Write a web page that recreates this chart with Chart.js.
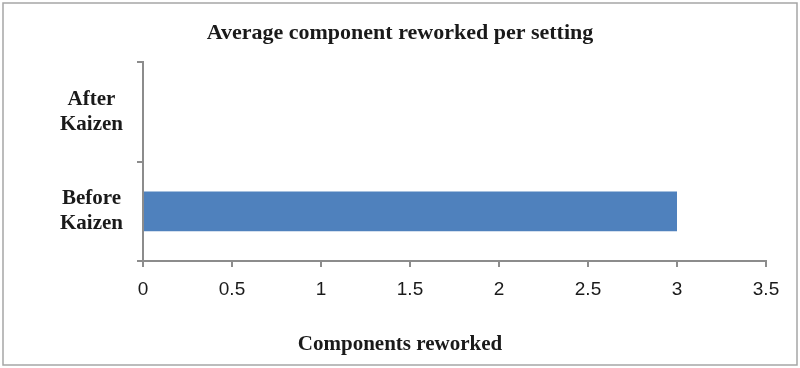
<!DOCTYPE html>
<html>
<head>
<meta charset="utf-8">
<script src="https://cdn.jsdelivr.net/npm/chart.js@4/dist/chart.umd.min.js"></script>
<style>
  html, body { margin: 0; padding: 0; background: #fff; }
  #wrap { width: 800px; height: 368px; position: relative; }
</style>
</head>
<body>
<div id="wrap"><canvas id="chart"></canvas></div>
<script>
(function () {
  "use strict";

  // data
  const CATEGORIES = [["After", "Kaizen"], ["Before", "Kaizen"]];
  const REWORKED = [0, 3];
  const X_TICKS = [0, 0.5, 1, 1.5, 2, 2.5, 3, 3.5];

  const TITLE = "Average component reworked per setting";
  const X_TITLE = "Components reworked";

  const AXIS = "#8c8c8c";
  const SERIF = "'Liberation Serif', 'Times New Roman', serif";

  // grey frame round the whole chart
  const framePlugin = {
    id: "frame",
    afterDraw(chart) {
      const ctx = chart.ctx;
      ctx.save();
      ctx.strokeStyle = "#a6a6a6";
      ctx.lineWidth = 1.5;
      ctx.strokeRect(3, 3, 794, 362);
      ctx.restore();
    },
  };

  new Chart(document.getElementById("chart"), {
    type: "bar",
    data: {
      labels: CATEGORIES,
      datasets: [{
        label: X_TITLE,
        data: REWORKED,
        backgroundColor: "#4f81bd",
        categoryPercentage: 0.8,
        barPercentage: 0.5,
      }],
    },
    options: {
      indexAxis: "y",
      responsive: true,
      maintainAspectRatio: false,
      animation: false,
      layout: { padding: 0 },
      plugins: {
        legend: { display: false },
        tooltip: { enabled: false },
        title: {
          display: true,
          text: TITLE,
          color: "#1a1a1a",
          font: { family: SERIF, size: 22, weight: "bold" },
          padding: { top: 20, bottom: 16 },
        },
        subtitle: {
          display: true,
          position: "bottom",
          text: X_TITLE,
          color: "#1a1a1a",
          font: { family: SERIF, size: 21, weight: "bold" },
          padding: { top: 20, bottom: 11 },
        },
      },
      scales: {
        x: {
          min: 0,
          max: 3.5,
          afterBuildTicks(scale) {
            scale.ticks = X_TICKS.map((v) => ({ value: v }));
          },
          grid: { drawOnChartArea: false, color: AXIS, lineWidth: 2, tickLength: 6 },
          border: { color: AXIS, width: 2 },
          ticks: {
            color: "#1a1a1a",
            padding: 11,
            maxRotation: 0,
            callback: (v) => String(v),
            font: { family: "'Liberation Sans', Arial, sans-serif", size: 19 },
          },
        },
        y: {
          afterFit(scale) { scale.width = 143; },
          grid: { drawOnChartArea: false, offset: true, color: AXIS, lineWidth: 2, tickLength: 6 },
          border: { color: AXIS, width: 2 },
          ticks: {
            color: "#1a1a1a",
            padding: 14,
            crossAlign: "center",
            font: { family: SERIF, size: 21, weight: "bold" },
          },
        },
        // empty right-hand spacer so the titles stay centred on the page
        spacer: {
          type: "linear",
          position: "right",
          afterFit(scale) { scale.width = 34; },
          grid: { display: false },
          border: { display: false },
          ticks: { display: false },
        },
      },
    },
    plugins: [framePlugin],
  });
})();
</script>
</body>
</html>
